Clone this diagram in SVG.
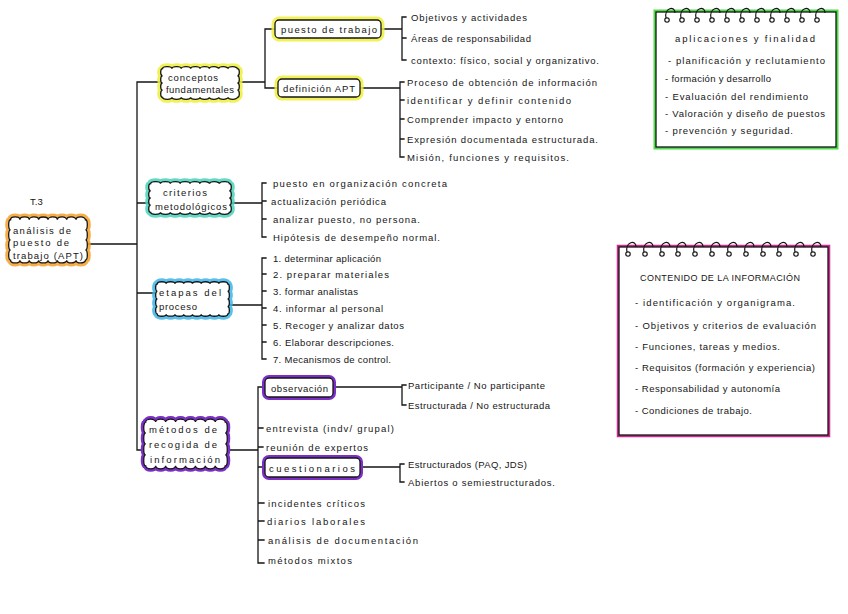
<svg xmlns="http://www.w3.org/2000/svg" width="848" height="614" viewBox="0 0 848 614">
<style>
.t{font-family:"Liberation Sans",Arial,sans-serif;font-size:9.5px;fill:#151515;dominant-baseline:central}
.h{font-size:9px}
.ln{fill:none;stroke:#151515;stroke-width:1.3;stroke-linecap:square}
.ol{fill:#fff;stroke:#151515;stroke-width:1.3}
.gy{fill:none;stroke:#eef03c;stroke-width:7;stroke-opacity:.85}
.gt{fill:none;stroke:#46d2b8;stroke-width:7;stroke-opacity:.85}
.gb{fill:none;stroke:#3cb4ea;stroke-width:7;stroke-opacity:.85}
.gp{fill:none;stroke:#7b2fc4;stroke-width:6}
.go{fill:none;stroke:#f5a02a;stroke-width:7;stroke-opacity:.85}
.gg{fill:none;stroke:#4fdc4a;stroke-width:5}
.gm{fill:none;stroke:#cc2a8e;stroke-width:4.5}
.ring{fill:none;stroke:#151515;stroke-width:1.2}
</style>
<defs>
<path id="cloud" vector-effect="non-scaling-stroke" d="M6,4 a5.5,2.2 0 0 1 11,0 a5.5,2.2 0 0 1 11,0 a5.5,2.2 0 0 1 11,0 a5.5,2.2 0 0 1 11,0 a5.5,2.2 0 0 1 11,0 a5.5,2.2 0 0 1 11,0 a5.5,2.2 0 0 1 11,0 a5.5,2.2 0 0 1 11,0 a2.2,4 0 0 1 0,8 a2.2,4 0 0 1 0,8 a2.2,4 0 0 1 0,8 a2.2,4 0 0 1 0,8 a5.5,2.2 0 0 1 -11,0 a5.5,2.2 0 0 1 -11,0 a5.5,2.2 0 0 1 -11,0 a5.5,2.2 0 0 1 -11,0 a5.5,2.2 0 0 1 -11,0 a5.5,2.2 0 0 1 -11,0 a5.5,2.2 0 0 1 -11,0 a5.5,2.2 0 0 1 -11,0 a2.2,4 0 0 1 0,-8 a2.2,4 0 0 1 0,-8 a2.2,4 0 0 1 0,-8 a2.2,4 0 0 1 0,-8 Z"/>
<g id="ring"><circle cx="0" cy="0" r="2.2" class="ring"/><path class="ring" d="M-1,-2 C-3,-12 8,-15 8,-7"/></g>
</defs>
<rect width="848" height="614" fill="#fff"/>

<g id="connectors">
<path class="ln" d="M88,244 H137 M137,82 V450 M137,82 H161 M137,203 H149 M137,293 H156 M137,450 H144"/>
<path class="ln" d="M240,82 H265 M265,29 V88 M265,29 H275 M265,88 H278"/>
<path class="ln" d="M381,29 H402 M406,17 H402 V60 H406 M402,38 H406"/>
<path class="ln" d="M360,88 H400 M404,82 H400 V157 H404 M400,100 H404 M400,119 H404 M400,139 H404"/>
<path class="ln" d="M232,203 H262 M266,183 H262 V237 H266 M262,201 H266 M262,219 H266"/>
<path class="ln" d="M230,305 H262 M266,258 H262 V359 H266 M262,274 H266 M262,291 H266 M262,308 H266 M262,325 H266 M262,342 H266"/>
<path class="ln" d="M228,450 H258 M258,387 V563 H264 M258,387 H265 M258,428 H263 M258,447 H263 M258,467 H265 M258,503 H264 M258,521 H264 M258,540 H264"/>
<path class="ln" d="M333,387 H402 M406,385 H402 V405 H406"/>
<path class="ln" d="M360,467 H400 M404,464 H400 V482 H404"/>
</g>

<g id="root">
<text class="t" x="30" y="201">T.3</text>
<g transform="translate(5.45,214.7) scale(0.851,1.263)"><use href="#cloud" class="go"/><use href="#cloud" class="ol"/></g>
<text class="t" x="13" y="230" textLength="58">análisis de</text>
<text class="t" x="13" y="242" textLength="56">puesto de</text>
<text class="t" x="13" y="255" textLength="70">trabajo (APT)</text>
</g>

<g id="conceptos">
<g transform="translate(157.45,65.1) scale(0.851,0.895)"><use href="#cloud" class="gy"/><use href="#cloud" class="ol"/></g>
<text class="t" x="168" y="77" textLength="50">conceptos</text>
<text class="t" x="166" y="89" textLength="68">fundamentales</text>
</g>

<g id="puesto">
<rect x="275" y="20" width="106" height="18" rx="4" class="gy"/>
<rect x="275" y="20" width="106" height="18" rx="4" class="ol"/>
<text class="t" x="281" y="29" textLength="96">puesto de trabajo</text>
<text class="t" x="411" y="17" textLength="116">Objetivos y actividades</text>
<text class="t" x="411" y="38" textLength="120">Áreas de responsabilidad</text>
<text class="t" x="411" y="60" textLength="188">contexto: físico, social y organizativo.</text>
</g>

<g id="definicion">
<rect x="278" y="79" width="82" height="18" rx="4" class="gy"/>
<rect x="278" y="79" width="82" height="18" rx="4" class="ol"/>
<text class="t" x="283" y="88" textLength="72">definición APT</text>
<text class="t" x="407" y="82" textLength="190">Proceso de obtención de información</text>
<text class="t" x="407" y="100" textLength="164">identificar y definir contenido</text>
<text class="t" x="407" y="119" textLength="156">Comprender impacto y entorno</text>
<text class="t" x="407" y="139" textLength="191">Expresión documentada estructurada.</text>
<text class="t" x="407" y="157" textLength="162">Misión, funciones y requisitos.</text>
</g>

<g id="criterios">
<g transform="translate(145.3,180.1) scale(0.894,0.895)"><use href="#cloud" class="gt"/><use href="#cloud" class="ol"/></g>
<text class="t" x="163" y="192" textLength="44">criterios</text>
<text class="t" x="155" y="206" textLength="72">metodológicos</text>
<text class="t" x="273" y="183" textLength="174">puesto en organización concreta</text>
<text class="t" x="271" y="201" textLength="115">actualización periódica</text>
<text class="t" x="273" y="219" textLength="147">analizar puesto, no persona.</text>
<text class="t" x="273" y="237" textLength="167">Hipótesis de desempeño normal.</text>
</g>

<g id="etapas">
<g transform="translate(152.6,280.05) scale(0.798,0.947)"><use href="#cloud" class="gb"/><use href="#cloud" class="ol"/></g>
<text class="t" x="159" y="292" textLength="62">etapas del</text>
<text class="t" x="159" y="306" textLength="38">proceso</text>
<text class="t" x="273" y="258" textLength="108">1. determinar aplicación</text>
<text class="t" x="273" y="274" textLength="116">2. preparar materiales</text>
<text class="t" x="273" y="291" textLength="85">3. formar analistas</text>
<text class="t" x="273" y="308" textLength="110">4. informar al personal</text>
<text class="t" x="273" y="325" textLength="131">5. Recoger y analizar datos</text>
<text class="t" x="273" y="342" textLength="121">6. Elaborar descripciones.</text>
<text class="t" x="273" y="359" textLength="118">7. Mecanismos de control.</text>
</g>

<g id="metodos">
<g transform="translate(140.3,416.6) scale(0.904,1.368)"><use href="#cloud" class="gp"/><use href="#cloud" class="ol"/></g>
<text class="t" x="149" y="429" textLength="68">métodos de</text>
<text class="t" x="149" y="444" textLength="68">recogida de</text>
<text class="t" x="150" y="459" textLength="70">información</text>
<text class="t" x="266" y="428" textLength="128">entrevista (indv/ grupal)</text>
<text class="t" x="266" y="447" textLength="102">reunión de expertos</text>
<text class="t" x="268" y="503" textLength="97">incidentes críticos</text>
<text class="t" x="267" y="521" textLength="98">diarios laborales</text>
<text class="t" x="268" y="540" textLength="150">análisis de documentación</text>
<text class="t" x="268" y="560" textLength="84">métodos mixtos</text>
</g>

<g id="observacion">
<rect x="265" y="378" width="68" height="19" rx="4" class="gp"/>
<rect x="265" y="378" width="68" height="19" rx="4" class="ol"/>
<text class="t" x="271" y="388" textLength="57">observación</text>
<text class="t" x="408" y="385" textLength="137">Participante / No participante</text>
<text class="t" x="408" y="405" textLength="142">Estructurada / No estructurada</text>
</g>

<g id="cuestionarios">
<rect x="265" y="458" width="95" height="19" rx="4" class="gp"/>
<rect x="265" y="458" width="95" height="19" rx="4" class="ol"/>
<text class="t" x="269" y="468" textLength="86">cuestionarios</text>
<text class="t" x="408" y="464" textLength="119">Estructurados (PAQ, JDS)</text>
<text class="t" x="408" y="482" textLength="147">Abiertos o semiestructurados.</text>
</g>

<g id="aplicaciones">
<rect x="656" y="12" width="180" height="135" class="gg"/>
<rect x="656" y="12" width="180" height="135" class="ol"/>
<use href="#ring" x="667" y="20"/><use href="#ring" x="682" y="20"/><use href="#ring" x="697" y="20"/><use href="#ring" x="712" y="20"/><use href="#ring" x="727" y="20"/><use href="#ring" x="742" y="20"/><use href="#ring" x="757" y="20"/><use href="#ring" x="772" y="20"/><use href="#ring" x="787" y="20"/><use href="#ring" x="802" y="20"/><use href="#ring" x="817" y="20"/>
<text class="t" x="675" y="38" textLength="140">aplicaciones y finalidad</text>
<text class="t" x="668" y="60" textLength="157">- planificación y reclutamiento</text>
<text class="t" x="665" y="78" textLength="106">- formación y desarrollo</text>
<text class="t" x="665" y="96" textLength="143">- Evaluación del rendimiento</text>
<text class="t" x="665" y="113" textLength="160">- Valoración y diseño de puestos</text>
<text class="t" x="665" y="130" textLength="128">- prevención y seguridad.</text>
</g>

<g id="contenido">
<rect x="619" y="247" width="209" height="188" class="gm"/>
<rect x="619" y="247" width="209" height="188" class="ol"/>
<use href="#ring" x="628" y="254"/><use href="#ring" x="645" y="254"/><use href="#ring" x="662" y="254"/><use href="#ring" x="678" y="254"/><use href="#ring" x="695" y="254"/><use href="#ring" x="712" y="254"/><use href="#ring" x="729" y="254"/><use href="#ring" x="746" y="254"/><use href="#ring" x="763" y="254"/><use href="#ring" x="779" y="254"/><use href="#ring" x="796" y="254"/><use href="#ring" x="813" y="254"/>
<text class="t h" x="640" y="278" textLength="160">CONTENIDO DE LA INFORMACIÓN</text>
<text class="t" x="635" y="302" textLength="160">- identificación y organigrama.</text>
<text class="t" x="635" y="325" textLength="181">- Objetivos y criterios de evaluación</text>
<text class="t" x="635" y="346" textLength="145">- Funciones, tareas y medios.</text>
<text class="t" x="635" y="367" textLength="180">- Requisitos (formación y experiencia)</text>
<text class="t" x="635" y="388" textLength="145">- Responsabilidad y autonomía</text>
<text class="t" x="635" y="410" textLength="117">- Condiciones de trabajo.</text>
</g>
</svg>
